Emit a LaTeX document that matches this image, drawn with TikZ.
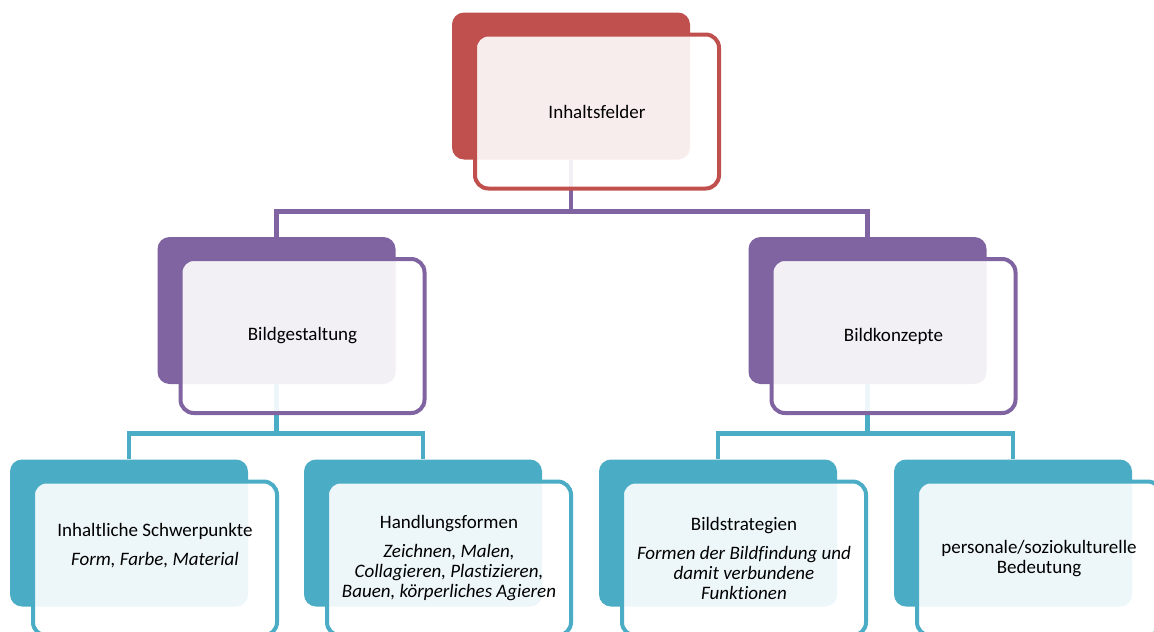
\documentclass[tikz,border=0pt]{standalone}
\usepackage{fontspec}
\setmainfont{Carlito}[Ligatures={NoCommon}]
\usetikzlibrary{backgrounds}

\definecolor{accRed}{HTML}{C0504D}
\definecolor{accPurple}{HTML}{8064A2}
\definecolor{accTeal}{HTML}{4BACC6}
\newcommand{\boxfont}{\fontsize{14.25}{15}\selectfont}

\begin{document}
\begin{tikzpicture}[x=0.75pt,y=-0.75pt,% pixel grid of the reference
        backbox/.style={rounded corners=9pt, fill=#1, minimum width=178.5pt,
          minimum height=110.25pt, inner sep=0pt},
        frontbox/.style={rounded corners=10pt, draw=#1, line width=3pt,
          fill=white, fill opacity=0.9, text opacity=1, minimum width=183pt,
          minimum height=115.5pt, inner sep=0pt, align=center, font=\boxfont},
        conn/.style={draw=#1, line width=3.5pt}]
\useasboundingbox (0,0) rectangle (1154,632);
\clip (0,0) rectangle (1154,632); % lowest boxes run off the page

% top
\node[backbox=accRed] (T) at (571,86) {};
\node[frontbox=accRed] (T-f) at ([shift={(26,25.5)}]T.center) {Inhaltsfelder};

% second row
\node[backbox=accPurple] (B-1) at (276.5,310.5) {};
\node[backbox=accPurple] (B-2) at (867.5,310.5) {};
\node[frontbox=accPurple] (B-1-f) at ([shift={(26,25.5)}]B-1.center) {Bildgestaltung};
\node[frontbox=accPurple] (B-2-f) at ([shift={(26,25.5)}]B-2.center) {Bildkonzepte};

% third row
\foreach[count=\xi] \x in {129,423,718,1013}{ %\xi is the counter \x is the centre
\node[backbox=accTeal] (C-\xi) at (\x,533) {};
}
\node[frontbox=accTeal] (C-1-f) at ([shift={(26,25.5)}]C-1.center)
  {Inhaltliche Schwerpunkte\\[6.75pt]{\itshape Form, Farbe, Material}\\[6.75pt]\mbox{}};
\node[frontbox=accTeal] (C-2-f) at ([shift={(26,25.5)}]C-2.center)
  {Handlungsformen\\[6.75pt]{\itshape Zeichnen, Malen,}\\{\itshape Collagieren, Plast\kern0pt izieren,}\\{\itshape Bauen, körperliches Agieren}};
\node[frontbox=accTeal] (C-3-f) at ([shift={(26,25.5)}]C-3.center)
  {Bildstrategien\\[6.75pt]{\itshape Formen der Bildfindung und}\\{\itshape damit verbundene}\\{\itshape Funkt\kern0pt ionen}};
\node[frontbox=accTeal] (C-4-f) at ([shift={(26,25.5)}]C-4.center)
  {personale/soziokulturelle\\Bedeutung};

\coordinate (j-T) at ([shift={(0,52)}]T.south);
\coordinate (j-1) at ([shift={(0,49)}]B-1.south);
\coordinate (j-2) at ([shift={(0,49)}]B-2.south);

\begin{scope}[on background layer]
\draw[conn=accPurple] (T.south) -- (j-T) -| (B-1.north);
\draw[conn=accPurple] (j-T) -| (B-2.north);
\draw[conn=accTeal] (B-1.south) -- (j-1) -| (C-1.north);
\draw[conn=accTeal] (j-1) -| (C-2.north);
\draw[conn=accTeal] (B-2.south) -- (j-2) -| (C-3.north);
\draw[conn=accTeal] (j-2) -| (C-4.north);
\end{scope}

\end{tikzpicture}
\end{document}
